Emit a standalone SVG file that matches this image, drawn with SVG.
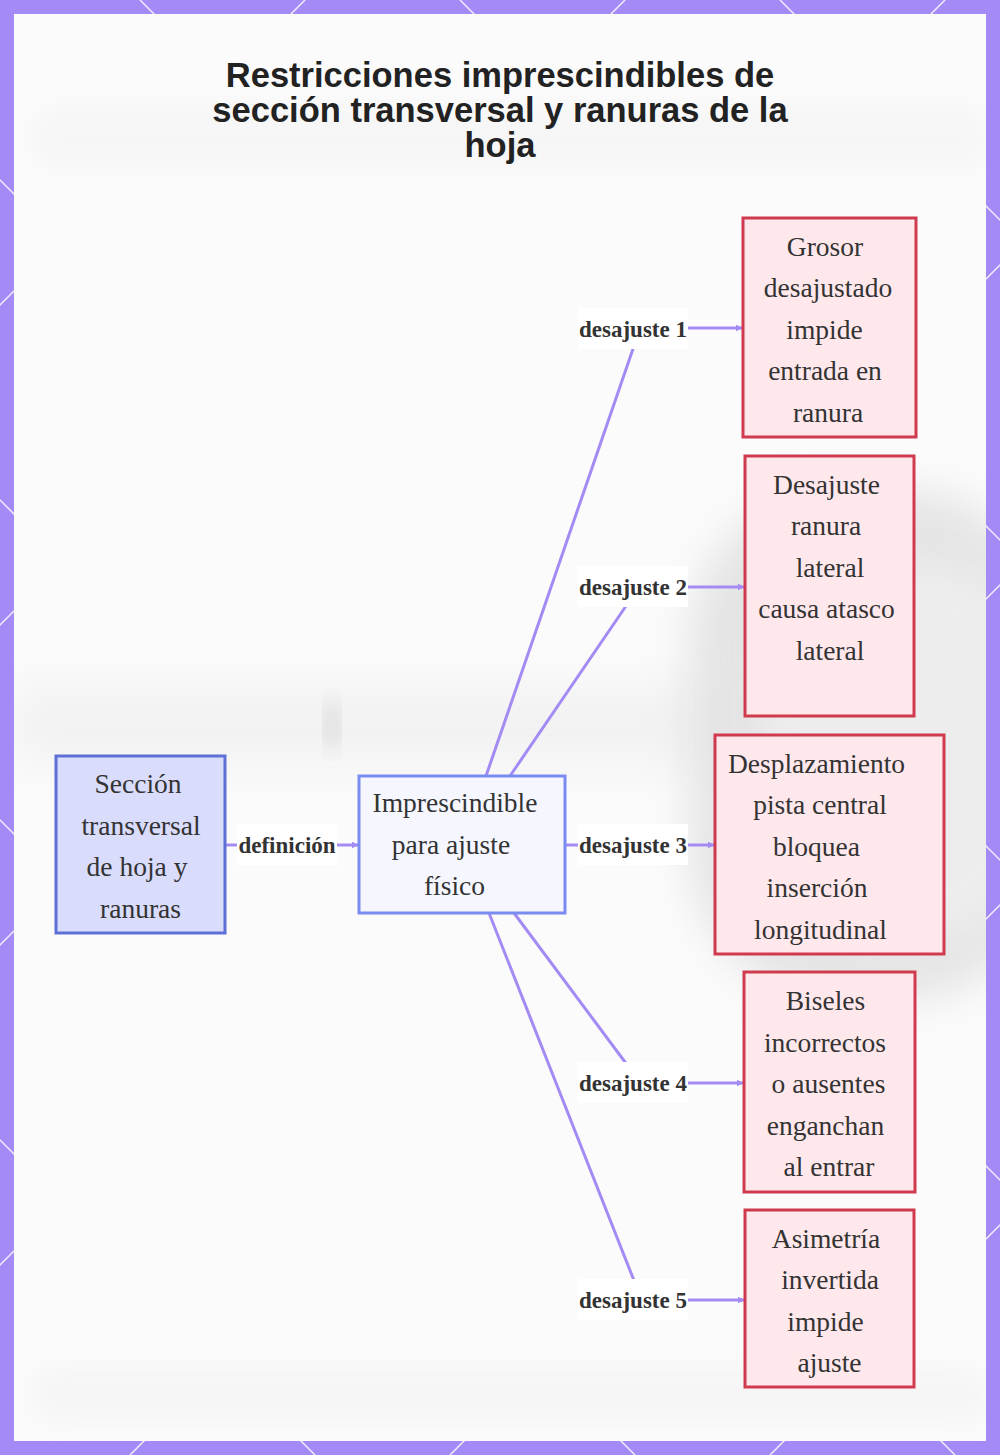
<svg xmlns="http://www.w3.org/2000/svg" width="1000" height="1455" viewBox="0 0 1000 1455">
<defs>
<style>
.title{font-family:"Liberation Sans",Arial,sans-serif;font-weight:bold;font-size:34.5px;fill:#222;text-anchor:middle}
.nt{font-family:"Liberation Serif","Times New Roman",serif;font-size:27.5px;fill:#333;text-anchor:middle}
.lt{font-family:"Liberation Serif","Times New Roman",serif;font-weight:bold;font-size:23px;fill:#333;text-anchor:middle}
.lbg{fill:#ffffff}
.edge{fill:none;stroke:#a48bf4;stroke-width:3}
.src{fill:#d9dcfb;stroke:#5d70d6;stroke-width:3}
.mid{fill:#f5f6fe;stroke:#7a8cf0;stroke-width:3}
.bad{fill:#ffe8ec;stroke:#d03a4e;stroke-width:3}
.bl{stroke:#ffffff;stroke-width:1.5;opacity:0.85}
</style>
<marker id="arr" viewBox="0 0 10 10" refX="9" refY="5" markerWidth="7" markerHeight="7" markerUnits="userSpaceOnUse" orient="auto">
<path d="M0,0 L10,5 L0,10 z" fill="#a48bf4"/>
</marker>
<filter id="blur" x="-40%" y="-40%" width="180%" height="180%"><feGaussianBlur stdDeviation="22"/></filter>
<filter id="blur2" x="-30%" y="-30%" width="160%" height="160%"><feGaussianBlur stdDeviation="10"/></filter>
<clipPath id="inner"><rect x="14" y="14" width="972" height="1427"/></clipPath>
</defs>

<g id="frame">
<rect x="0" y="0" width="1000" height="1455" fill="#a48af7"/>
<g class="bl">
<line x1="-1140" y1="0" x2="315" y2="1455"/>
<line x1="-820" y1="0" x2="635" y2="1455"/>
<line x1="-500" y1="0" x2="955" y2="1455"/>
<line x1="-180" y1="0" x2="1275" y2="1455"/>
<line x1="140" y1="0" x2="1595" y2="1455"/>
<line x1="460" y1="0" x2="1915" y2="1455"/>
<line x1="780" y1="0" x2="2235" y2="1455"/>
<line x1="305" y1="0" x2="-1150" y2="1455"/>
<line x1="625" y1="0" x2="-830" y2="1455"/>
<line x1="945" y1="0" x2="-510" y2="1455"/>
<line x1="1265" y1="0" x2="-190" y2="1455"/>
<line x1="1585" y1="0" x2="130" y2="1455"/>
<line x1="1905" y1="0" x2="450" y2="1455"/>
<line x1="2225" y1="0" x2="770" y2="1455"/>
</g>
<rect x="14" y="14" width="972" height="1427" fill="#fbfbfc"/>
<g clip-path="url(#inner)">
<rect x="30" y="105" width="960" height="65" rx="30" fill="#eeeeee" opacity="0.35" filter="url(#blur2)"/>
<rect x="30" y="1365" width="960" height="60" rx="30" fill="#eeeeee" opacity="0.4" filter="url(#blur2)"/>
<rect x="10" y="685" width="700" height="80" fill="#ececec" opacity="0.6" filter="url(#blur)"/>
<rect x="690" y="490" width="360" height="510" rx="150" fill="#dcdcdc" opacity="0.75" filter="url(#blur)"/>
<rect x="760" y="560" width="280" height="380" rx="110" fill="#f2f2f2" opacity="0.7" filter="url(#blur)"/>
<rect x="326" y="702" width="12" height="46" fill="#d6d6d6" filter="url(#blur2)"/>
</g>
</g>

<g id="title">
<text class="title" x="500" y="87">Restricciones imprescindibles de</text>
<text class="title" x="500" y="122">sección transversal y ranuras de la</text>
<text class="title" x="500" y="157">hoja</text>
</g>

<g id="connectors">
<path class="edge" d="M226,845 L358,845" marker-end="url(#arr)"/>
<path class="edge" d="M486,776 L634,346 Q641,328 660,328 L742,328" marker-end="url(#arr)"/>
<path class="edge" d="M510,776 L626,606 Q640,587 660,587 L744,587" marker-end="url(#arr)"/>
<path class="edge" d="M565,845 L714,845" marker-end="url(#arr)"/>
<path class="edge" d="M514,913 L625,1062 Q640,1083 660,1083 L743,1083" marker-end="url(#arr)"/>
<path class="edge" d="M489,913 L633,1278 Q641,1300 660,1300 L744,1300" marker-end="url(#arr)"/>
<g id="labels">
<rect class="lbg" x="237" y="824" width="100" height="41"/>
<text class="lt" x="287" y="853">definición</text>
<rect class="lbg" x="578" y="308" width="110" height="41"/>
<text class="lt" x="633" y="337">desajuste 1</text>
<rect class="lbg" x="578" y="566" width="110" height="41"/>
<text class="lt" x="633" y="595">desajuste 2</text>
<rect class="lbg" x="578" y="824" width="110" height="41"/>
<text class="lt" x="633" y="853">desajuste 3</text>
<rect class="lbg" x="578" y="1062" width="110" height="41"/>
<text class="lt" x="633" y="1091">desajuste 4</text>
<rect class="lbg" x="578" y="1279" width="110" height="41"/>
<text class="lt" x="633" y="1308">desajuste 5</text>
</g>
</g>

<g id="node-seccion">
<rect class="src" x="56" y="756" width="169" height="177"/>
<text class="nt" x="138" y="793">Sección</text>
<text class="nt" x="141" y="834.5">transversal</text>
<text class="nt" x="137" y="876">de hoja y</text>
<text class="nt" x="140.5" y="917.5">ranuras</text>
</g>

<g id="node-imprescindible">
<rect class="mid" x="359" y="776" width="206" height="137"/>
<text class="nt" x="455" y="812">Imprescindible</text>
<text class="nt" x="451" y="853.5">para ajuste</text>
<text class="nt" x="454.5" y="895">físico</text>
</g>

<g id="node-grosor">
<rect class="bad" x="743" y="218" width="173" height="219"/>
<text class="nt" x="825" y="255.5">Grosor</text>
<text class="nt" x="828" y="297">desajustado</text>
<text class="nt" x="824.5" y="338.5">impide</text>
<text class="nt" x="825" y="380">entrada en</text>
<text class="nt" x="828" y="421.5">ranura</text>
</g>

<g id="node-ranura-lateral">
<rect class="bad" x="745" y="456" width="169" height="260"/>
<text class="nt" x="826.5" y="493.5">Desajuste</text>
<text class="nt" x="826" y="535">ranura</text>
<text class="nt" x="830" y="576.5">lateral</text>
<text class="nt" x="826.5" y="618">causa atasco</text>
<text class="nt" x="830" y="659.5">lateral</text>
</g>

<g id="node-pista-central">
<rect class="bad" x="715" y="735" width="229" height="219"/>
<text class="nt" x="816.5" y="772.5">Desplazamiento</text>
<text class="nt" x="820" y="814">pista central</text>
<text class="nt" x="816.5" y="855.5">bloquea</text>
<text class="nt" x="817" y="897">inserción</text>
<text class="nt" x="820.5" y="938.5">longitudinal</text>
</g>

<g id="node-biseles">
<rect class="bad" x="744" y="972" width="171" height="220"/>
<text class="nt" x="825.5" y="1010">Biseles</text>
<text class="nt" x="825" y="1051.5">incorrectos</text>
<text class="nt" x="828.5" y="1093">o ausentes</text>
<text class="nt" x="825.5" y="1134.5">enganchan</text>
<text class="nt" x="829" y="1176">al entrar</text>
</g>

<g id="node-asimetria">
<rect class="bad" x="745" y="1210" width="169" height="177"/>
<text class="nt" x="826" y="1247.5">Asimetría</text>
<text class="nt" x="830" y="1289">invertida</text>
<text class="nt" x="825.5" y="1330.5">impide</text>
<text class="nt" x="829.5" y="1372">ajuste</text>
</g>
</svg>
